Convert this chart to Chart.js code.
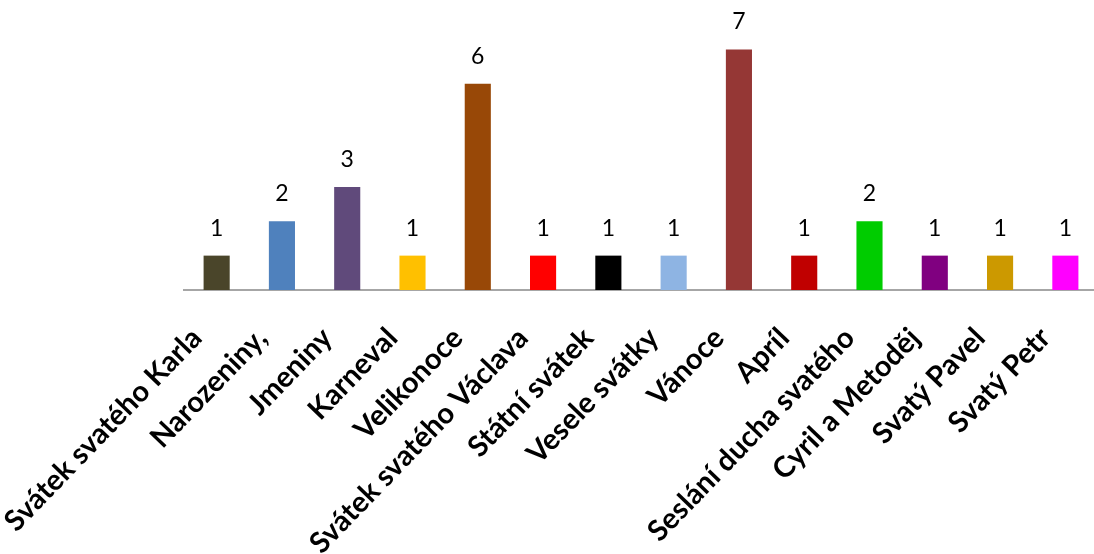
<!DOCTYPE html>
<html>
<head>
<meta charset="utf-8">
<script src="https://cdn.jsdelivr.net/npm/chart.js@4.4.1/dist/chart.umd.min.js"></script>
<style>
  html, body { margin: 0; padding: 0; background: #fff; overflow: hidden; }
  #wrap { width: 1098px; height: 554px; }
</style>
</head>
<body>
<div id="wrap"><canvas id="myChart"></canvas></div>
<script>
const categories = [
  "Svátek svatého Karla", "Narozeniny,", "Jmeniny", "Karneval", "Velikonoce",
  "Svátek svatého Václava", "Státní svátek", "Vesele svátky", "Vánoce", "Apríl",
  "Seslání ducha svatého", "Cyril a Metoděj", "Svatý Pavel", "Svatý Petr"
];
const counts = [1, 2, 3, 1, 6, 1, 1, 1, 7, 1, 2, 1, 1, 1];
const barColors = [
  "#4A452A", "#4F81BD", "#604A7B", "#FFC000", "#984807", "#FF0000", "#000000",
  "#8EB4E3", "#953735", "#C00000", "#00CC00", "#800080", "#CC9900", "#FF00FF"
];
const yMax = 8;

// value labels above each bar
const valueLabels = {
  id: "valueLabels",
  afterDatasetsDraw(chart) {
    const ctx = chart.ctx;
    const meta = chart.getDatasetMeta(0);
    ctx.save();
    ctx.font = "23px Lato";
    ctx.fillStyle = "#000";
    ctx.textAlign = "center";
    ctx.textBaseline = "bottom";
    meta.data.forEach(function(bar, i) {
      ctx.fillText(String(counts[i]), bar.x, bar.y - 16);
    });
    ctx.restore();
  }
};

const ctx = document.getElementById("myChart").getContext("2d");
new Chart(ctx, {
  type: "bar",
  data: {
    labels: categories,
    datasets: [{
      data: counts,
      backgroundColor: barColors,
      barPercentage: 0.4,
      categoryPercentage: 1.0
    }]
  },
  options: {
    responsive: true,
    maintainAspectRatio: false,
    animation: false,
    layout: { padding: { left: 184, top: 15, right: 0, bottom: 0 } },
    plugins: {
      legend: { display: false },
      tooltip: { enabled: false }
    },
    scales: {
      x: {
        grid: { display: false },
        border: { display: true, color: "#A6A6A6", width: 2 },
        ticks: {
          color: "#000",
          font: { family: "Lato", size: 29, weight: "bold" },
          minRotation: 46,
          maxRotation: 46,
          autoSkip: false,
          padding: 23,
          labelOffset: -20
        },
        afterFit(scale) {
          scale.height = 264;
          scale.paddingLeft = 0;
          scale.paddingRight = 0;
        }
      },
      y: {
        display: false,
        min: 0,
        max: yMax
      }
    }
  },
  plugins: [valueLabels]
});
</script>
</body>
</html>
